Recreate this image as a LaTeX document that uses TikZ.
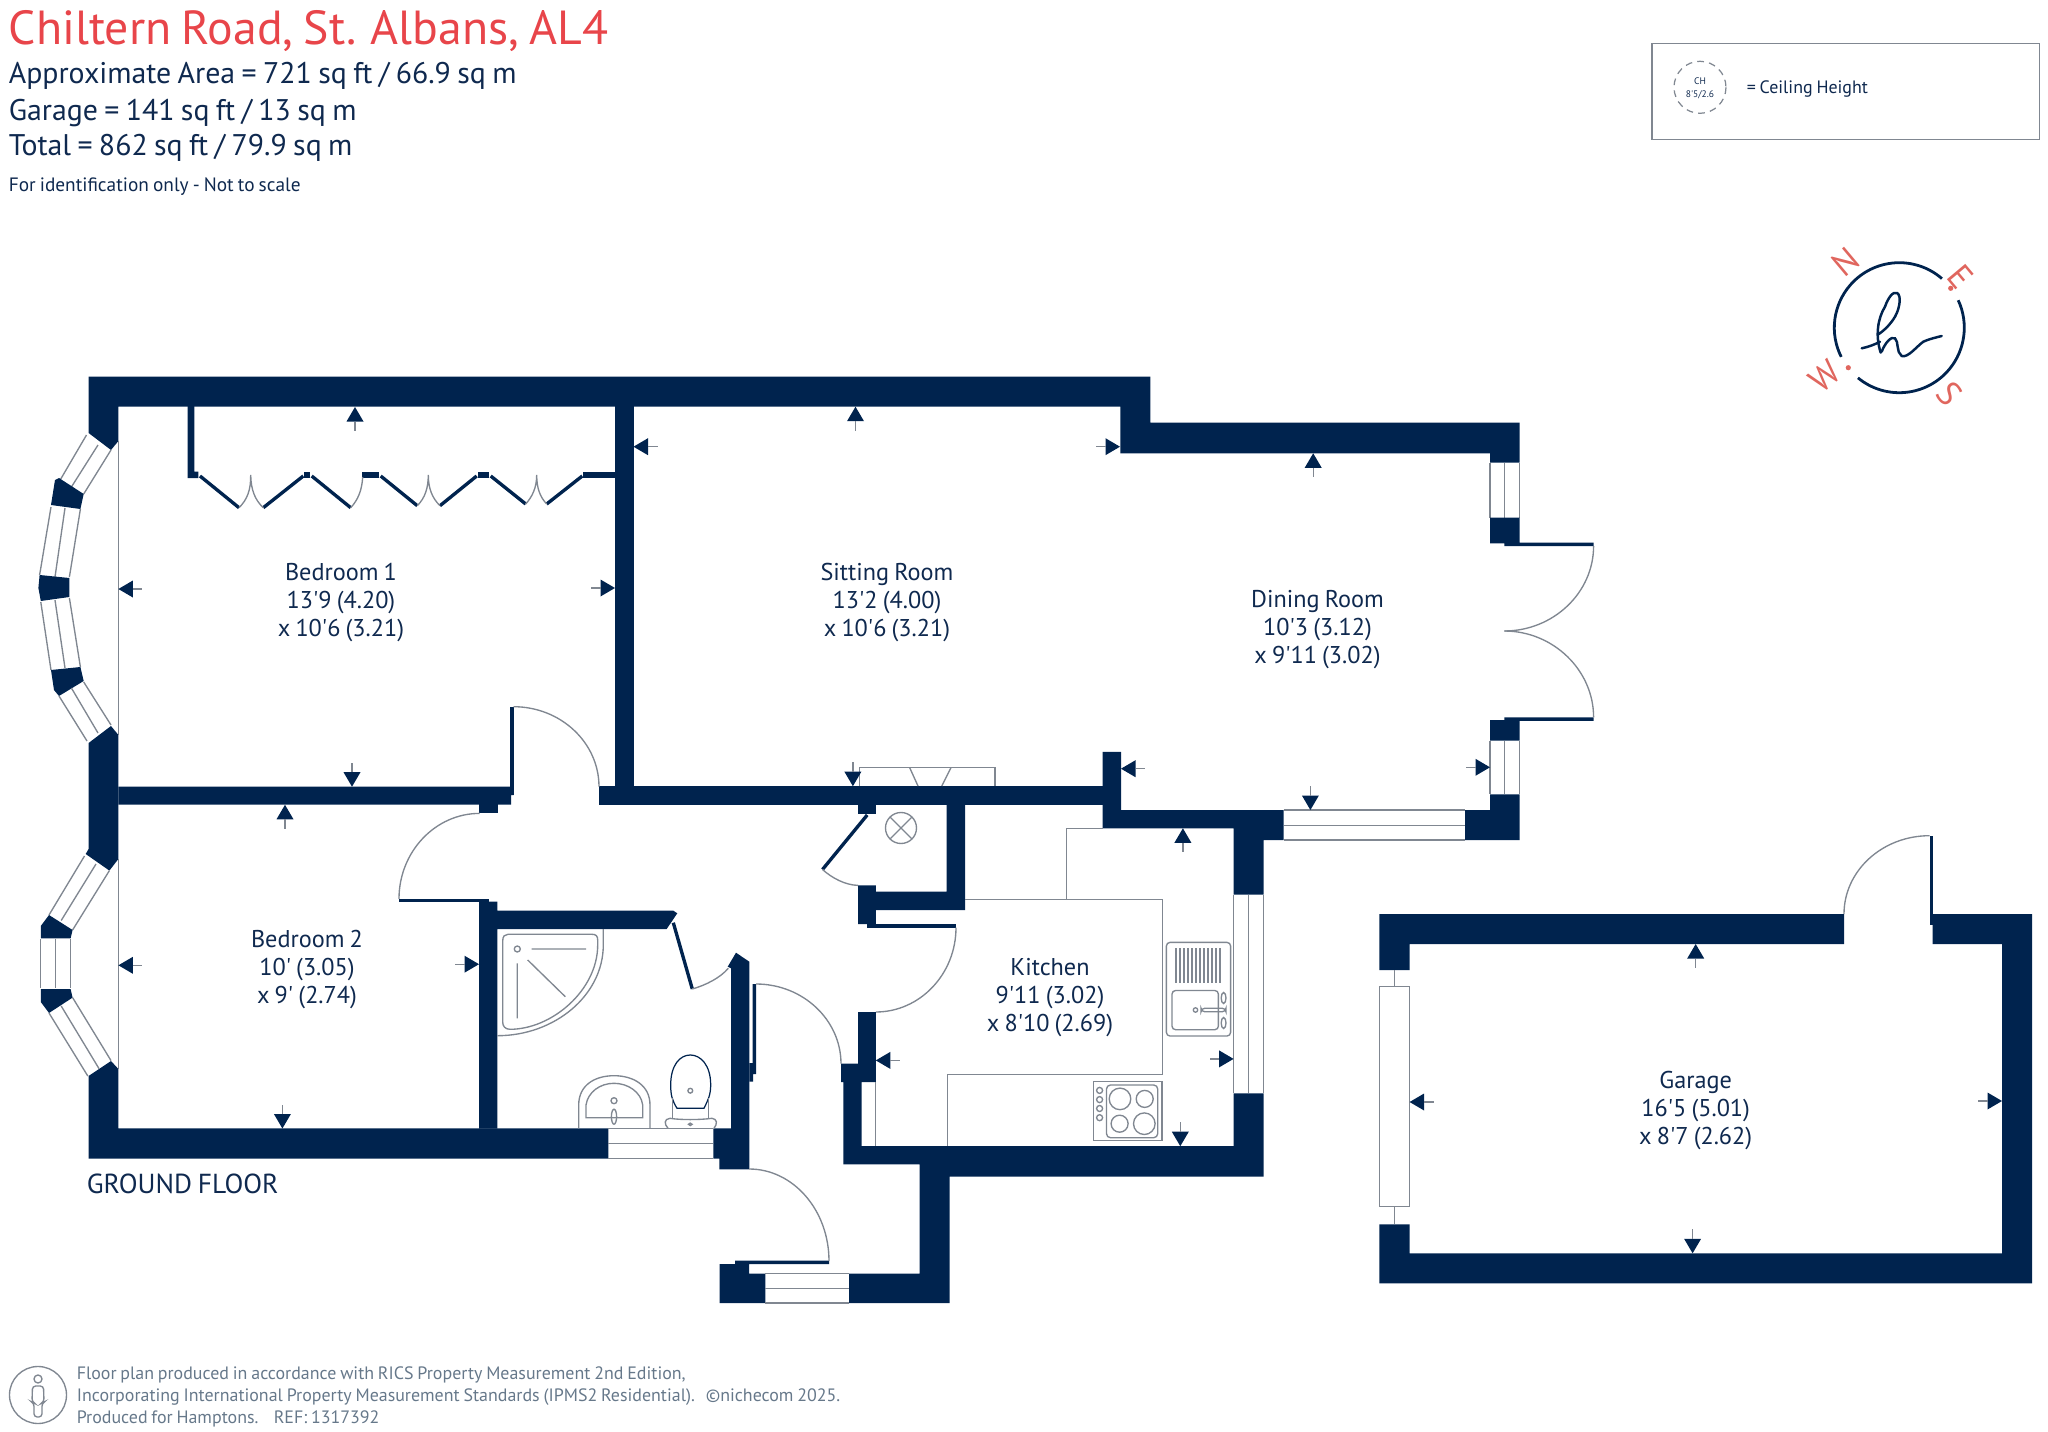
\documentclass[tikz,border=0pt]{standalone}
\usepackage{fontspec}
\setmainfont{PT Sans}[Ligatures=TeXOff,WordSpace=0.8]
\usepackage{tikz}
\usetikzlibrary{calc}
\definecolor{navy}{rgb}{0.0,0.137,0.306}
\definecolor{inkblue}{rgb}{0.06,0.16,0.31}
\definecolor{titlered}{rgb}{0.91,0.27,0.29}
\definecolor{compassred}{rgb}{0.88,0.40,0.37}
\definecolor{linegray}{rgb}{0.50,0.53,0.57}
\definecolor{footgray}{rgb}{0.40,0.47,0.54}
\tikzset{
  wall/.style={fill=navy},
  fineline/.style={draw=linegray,line width=0.34pt},
  darkline/.style={draw=navy,line width=0.31pt},
  leafline/.style={draw=navy,line width=0.84pt},
  roomlabel/.style={align=center,inner sep=0pt,text=inkblue,font=\fontsize{6.09}{7.03}\selectfont},
  headline/.style={anchor=base west,inner sep=0pt,text=inkblue,font=\fontsize{7.49}{9}\selectfont},
  footline/.style={anchor=base west,inner sep=0pt,text=footgray,font=\fontsize{4.5}{6}\selectfont},
  compassletter/.style={inner sep=0pt,text=compassred,font=\fontsize{8.6}{9}\selectfont}
}
% dimension tick: tip at #1,#2 and tail along angle #3
\newcommand{\dimtick}[3]{%
  \begin{scope}[shift={(#1,#2)},rotate=#3]
    \fill[navy] (0,0) -- (14.5,-8.5) -- (14.5,8.5) -- cycle;
    \draw[fineline] (14.5,0) -- (24,0);
  \end{scope}}
\begin{document}
\begin{tikzpicture}[x=0.25bp,y=-0.25bp]
        \useasboundingbox (0,0) rectangle (2048,1432);
        % Heading
        \node[anchor=base west,inner sep=0pt,text=titlered,font=\fontsize{12.0}{14}\selectfont] (title) at (8,44.3) {Chiltern Road, St. Albans, AL4};
        \node[headline] (arealine) at (8,83.3) {Approximate Area = 721 sq ft / 66.9 sq m};
        \node[headline] (garageline) at (8,120) {Garage = 141 sq ft / 13 sq m};
        \node[headline] (totalline) at (8,156) {Total = 862 sq ft / 79.9 sq m};
        \node[headline,font=\fontsize{4.85}{6}\selectfont] (noscale) at (8,191.7) {For identification only - Not to scale};
        % Ceiling Height key
        \draw[fineline] (1652,43.3) rectangle (2039.3,139.3);
        \draw[draw=linegray,line width=0.31pt,dash pattern=on 1.7pt off 1.3pt] (1700,87.3) circle (26);
        \node[inner sep=0pt,text=inkblue,font=\fontsize{2.38}{3}\selectfont] (keych) at (1700,81.5) {CH};
        \node[inner sep=0pt,text=inkblue,font=\fontsize{2.38}{3}\selectfont] (keyheight) at (1700,94.5) {8'5/2.6};
        \node[anchor=base west,inner sep=0pt,text=inkblue,font=\fontsize{4.5}{6}\selectfont] (keytext) at (1746,93.3) {= Ceiling Height};
        % Compass
        \draw[navy,line width=0.7pt] ({1899.3+65*cos(49)},{327.7-65*sin(49)}) arc[start angle=-49,end angle=-206.7,radius=65];
        \draw[navy,line width=0.7pt] ({1899.3+65*cos(230.5)},{327.7-65*sin(230.5)}) arc[start angle=-230.5,end angle=-385,radius=65];
        \draw[navy,line width=0.62pt,line cap=round] (1861.7,348.3) .. controls (1868,347) and (1875,344.5) .. (1880,341.7);
        \draw[navy,line width=0.62pt,line cap=round] (1880.7,352.7) .. controls (1875,335) and (1878,318) .. (1885,306.7) .. controls (1888,298) and (1893,291) .. (1897,293) .. controls (1902,296) and (1899,308) .. (1896.7,313.3) .. controls (1893,322) and (1884,331) .. (1877.3,335);
        \draw[navy,line width=0.62pt,line cap=round] (1881.7,351.7) .. controls (1885,343) and (1891,336) .. (1895,338.3) .. controls (1899,342) and (1896,352) .. (1901.7,356) .. controls (1908,358) and (1916,347) .. (1923.3,341.7) .. controls (1929,339) and (1936,337.5) .. (1941.7,336);
        \fill[compassred] (1950.7,288.3) circle (2.6);
        \fill[compassred] (1848.3,367.7) circle (2.6);
        \node[compassletter,rotate=40] (compassn) at (1846,261.7) {N};
        \node[compassletter,rotate=-50] (compasse) at (1961,276.7) {E};
        \node[compassletter,rotate=40] (compassw) at (1824.3,376.7) {W};
        \node[compassletter,rotate=-50] (compasss) at (1950,393.3) {S};
        % Top and rear walls
        \fill[wall] (88.6,376.7) -- (1150.4,376.7) -- (1150.4,422.7) -- (1519.6,422.7) -- (1519.6,462.7) -- (1490,462.7) -- (1490,453.3) -- (1120.4,453.3) -- (1120.4,406.7) -- (118.4,406.7) -- (118.4,441) -- (111,450) -- (88.6,433) -- cycle;
        \fill[wall] (615,406) rectangle (633.5,805);
        \fill[wall] (118.4,786.7) -- (513.5,786.7) -- (513.5,795) -- (511,795) -- (511,804.5) -- (118.4,804.5) -- cycle;
        \fill[wall] (599,786.2) rectangle (1102.7,805);
        % Bedroom 1 bay window
        \draw[fineline] (118.4,441) -- (118.4,735);
        \draw[fineline] (86.5,435) -- (59,482) (111,450) -- (83.7,494) (98,445) -- (71.4,487);
        \fill[wall] (55,480) -- (59,478) -- (83.7,494) -- (80.4,509) -- (51,505) -- cycle;
        \draw[fineline] (51,507) -- (39.6,575) (80.4,509) -- (69.4,577) (65,508) -- (55,577);
        \fill[wall] (39.6,575) -- (69.4,578) -- (69.4,597) -- (40.8,601) -- (38.4,588) -- cycle;
        \draw[fineline] (40.8,602) -- (51,670) (69.4,598) -- (80.4,667) (55,600) -- (65,668);
        \fill[wall] (51,670) -- (80.4,667) -- (83.7,681) -- (59,696) -- (54,690) -- cycle;
        \draw[fineline] (59,696) -- (87,741) (83.7,682) -- (111,725) (71.4,688) -- (98,733);
        % Left wall between the bays
        \fill[wall] (88.6,743) -- (111,726) -- (118.4,735) -- (118.4,859) -- (109.4,870.6) -- (85.7,854) -- (88.6,849) -- cycle;
        % Bedroom 2 bay window
        \draw[fineline] (118.4,859) -- (118.4,1069);
        \draw[fineline] (84.5,856) -- (49,915) (109.4,870.6) -- (72.6,930) (96,864) -- (61.2,920.5);
        \fill[wall] (49,915) -- (72.6,930) -- (70.6,938.4) -- (40.8,938.4) -- (40.8,926) -- cycle;
        \draw[fineline] (40.8,939) -- (40.8,988) (70.6,939) -- (70.6,988) (55.5,939) -- (55.5,988);
        \fill[wall] (40.8,989) -- (70.6,989) -- (72.6,997.6) -- (49,1013) -- (40.8,1002) -- cycle;
        \draw[fineline] (49,1013) -- (87.8,1076) (72.6,997.6) -- (111,1060.6) (61.2,1006) -- (99,1068.6);
        % Front walls
        \fill[wall] (88.6,1076) -- (111,1061) -- (118.4,1069) -- (118.4,1128.4) -- (608.3,1128.4) -- (608.3,1158.5) -- (88.6,1158.5) -- cycle;
        \fill[wall] (713.3,1128.4) -- (731,1128.4) -- (731,968.3) -- (727.7,966.7) -- (736,952.7) -- (749.3,961.7) -- (749.3,1169.3) -- (719.3,1169.3) -- (719.3,1158.5) -- (713.3,1158.5) -- cycle;
        \draw[fineline] (608.3,1128.4) -- (713.3,1128.4) (608.3,1143.3) -- (713.3,1143.3) (608.3,1158.5) -- (713.3,1158.5);
        % Bedroom 2 and bathroom walls
        \fill[wall] (479,899) -- (488.3,899) -- (488.3,901.7) -- (497.3,901.7) -- (497.3,910.7) -- (673.3,910.7) -- (677.3,913.3) -- (666.7,929) -- (497.3,929) -- (497.3,1128.5) -- (479,1128.5) -- cycle;
        \fill[wall] (479,804) rectangle (498,813.3);
        % Built in wardrobes
        \fill[wall] (187.7,406) -- (194.3,406) -- (194.3,471.7) -- (198.3,471.7) -- (198.3,478) -- (187.7,478) -- cycle;
        \fill[wall] (304.3,471.7) rectangle (310,478);
        \fill[wall] (362.3,471.7) rectangle (379,478);
        \fill[wall] (477.7,471.7) rectangle (489.3,478);
        \fill[wall] (583.3,471.7) rectangle (615,478);
        \draw[leafline] (200,476) -- (239,507.7);
        \draw[leafline] (263.3,507.7) -- (303.3,476);
        \draw[leafline] (311.7,476) -- (350.7,507.7);
        \draw[leafline] (380.7,476) -- (417.3,505.7);
        \draw[leafline] (440,505.7) -- (476.7,476);
        \draw[leafline] (490.7,476) -- (525.7,504);
        \draw[leafline] (546.7,504) -- (582.3,476);
        \draw[fineline] (239,507.7) .. controls (247,500) and (251,490) .. (250.7,475) .. controls (251,490) and (255,500) .. (263.3,507.7);
        \draw[fineline] (350.7,507.7) .. controls (358,500) and (362,490) .. (362.7,477);
        \draw[fineline] (417.3,505.7) .. controls (425,498) and (428.3,488) .. (428.3,475) .. controls (428.3,488) and (432,498) .. (440,505.7);
        \draw[fineline] (525.7,504) .. controls (532,497) and (536.7,488) .. (536.7,475) .. controls (536.7,488) and (540,497) .. (546.7,504);
        % Bedroom doors
        \fill[wall] (510,706.7) rectangle (513.5,795);
        \draw[fineline] (513.5,706.7) .. controls (560.8,706.7) and (599,742.7) .. (599,786.7);
        \fill[wall] (399,898.8) rectangle (488.6,902);
        \draw[fineline] (399,898.8) .. controls (399,851.8) and (435.3,813.4) .. (479.6,813.4);
        % Fireplace
        \draw[fineline] (859.8,786) -- (859.8,767.7) -- (995,767.7) -- (995,786);
        \draw[fineline] (909.7,767.7) -- (918,786) (950.9,767.7) -- (941.8,786);
        % Cupboard
        \fill[wall] (858,805) rectangle (875.8,814);
        \fill[wall] (858,885.4) -- (875.8,885.4) -- (875.8,891.7) -- (946.5,891.7) -- (946.5,805) -- (965,805) -- (965,910) -- (875.8,910) -- (875.8,924.2) -- (858,924.2) -- cycle;
        \draw[leafline] (867.2,815) -- (822.5,869.5);
        \draw[fineline] (822.5,869.5) .. controls (832,878) and (845,885) .. (858,885.4);
        \draw[fineline] (901,828) circle (15.5);
        \draw[fineline] (890,817) -- (912,839) (912,817) -- (890,839);
        % Kitchen and hall doors
        \fill[wall] (867,923.9) rectangle (956,927.6);
        \draw[fineline] (956,927.6) .. controls (956,974) and (920,1012) .. (875.8,1012);
        \fill[wall] (749.3,1063) -- (752.7,1063) -- (752.7,984) -- (756,984) -- (756,1074) -- (753,1074) -- (753,1081.7) -- (749.3,1081.7) -- cycle;
        \draw[fineline] (756,984) .. controls (803,984) and (841,1020) .. (841,1063.7);
        % Kitchen walls
        \fill[wall] (1102.7,751.8) -- (1121,751.8) -- (1121,810) -- (1283.6,810) -- (1283.6,840) -- (1263.5,840) -- (1263.5,894.6) -- (1233.6,894.6) -- (1233.6,828.3) -- (1102.7,828.3) -- cycle;
        \fill[wall] (1233.6,1093.3) -- (1263.5,1093.3) -- (1263.5,1176.5) -- (949.6,1176.5) -- (949.6,1303) -- (849,1303) -- (849,1273.5) -- (919.7,1273.5) -- (919.7,1164.4) -- (843.3,1164.4) -- (843.3,1082) -- (841,1082) -- (841,1063.7) -- (858,1063.7) -- (858,1012) -- (875.8,1012) -- (875.8,1082) -- (861.5,1082) -- (861.5,1146.2) -- (1233.6,1146.2) -- cycle;
        \draw[fineline] (1233.6,894.6) -- (1233.6,1093.3) (1248.4,894.6) -- (1248.4,1093.3) (1263.5,894.6) -- (1263.5,1093.3);
        % Kitchen units
        \draw[fineline] (875.8,1082) -- (875.8,1146.2);
        \draw[fineline] (1102.7,828.3) -- (1066.7,828.3) -- (1066.7,899.4);
        \draw[fineline] (965,899.4) -- (1162.5,899.4) -- (1162.5,1074.8) -- (947.4,1074.8) -- (947.4,1146.2);
        % Sink
        \draw[fineline,rounded corners=0.9pt] (1166.4,942.4) rectangle (1230.6,1036);
        \draw[fineline,rounded corners=0.9pt] (1172,990.5) rectangle (1218.4,1029.7);
        \foreach \groove in {1176,1180,...,1220} {
          \draw[fineline] (\groove,948) -- (\groove,983.4);
        }
        \draw[fineline,rounded corners=0.9pt] (1201,1008.3) rectangle (1226,1011.7);
        \draw[fineline] (1195.5,1010) circle (2.2);
        \draw[fineline] (1223.6,998) ellipse (2.4 and 5.5);
        \draw[fineline] (1223.6,1023) ellipse (2.4 and 5.5);
        % Hob
        \draw[fineline] (1093.5,1081.5) rectangle (1162,1140.7);
        \draw[fineline,rounded corners=1pt] (1106.5,1085) rectangle (1157.7,1137.7);
        \draw[fineline] (1120,1098.9) circle (10.8);
        \draw[fineline] (1144.7,1098.9) circle (8.5);
        \draw[fineline] (1119.6,1123.7) circle (8.5);
        \draw[fineline] (1144.3,1123.7) circle (10.8);
        \foreach \knob in {1090.4,1099.6,1108.5,1117.7} {
          \draw[fineline] (1099.6,\knob) circle (3);
        }
        % Shower
        \draw[fineline] (603.3,929) -- (603.3,945) .. controls (603.3,995) and (555,1035.7) .. (497.3,1035.7);
        \draw[fineline] (508,934.3) -- (592,934.3) .. controls (596,934.3) and (597.7,936) .. (597.7,940) -- (597.7,945) .. controls (597.7,990) and (552,1029.3) .. (510,1029.3) .. controls (505,1029.3) and (502.7,1026) .. (502.7,1022) -- (502.7,941) .. controls (502.7,936) and (505,934.3) .. (508,934.3) -- cycle;
        \draw[fineline] (517.3,949) circle (3);
        \draw[fineline] (531.7,949) -- (586,949) (517.3,963.3) -- (517.3,1018.3) (527.7,960) -- (565.3,996.7);
        % Basin
        \draw[fineline] (578.7,1128.3) -- (578.7,1105) .. controls (578.7,1085) and (595,1075.7) .. (614,1075.7) .. controls (633,1075.7) and (650,1085) .. (650,1105) -- (650,1128.3);
        \draw[fineline] (586,1117.7) -- (586,1105) .. controls (588,1092) and (600,1083.3) .. (614,1083.3) .. controls (628,1083.3) and (641,1092) .. (642.7,1105) -- (642.7,1117.7) -- cycle;
        \draw[fineline] (614,1100.7) circle (3);
        \draw[fineline] (614,1116.7) ellipse (2.6 and 7.5);
        % Toilet
        \draw[darkline] (677,1108.3) .. controls (672,1100) and (670.7,1095) .. (670.7,1085) .. controls (670.7,1065) and (680,1055) .. (690.3,1055) .. controls (700.6,1055) and (710.7,1065) .. (710.7,1085) .. controls (710.7,1095) and (708,1100) .. (704,1108.3) -- cycle;
        \draw[fineline] (672.5,1098) -- (672.5,1118.3) (708.5,1098) -- (708.5,1118.3);
        \draw[fineline] (668,1128.3) .. controls (664,1124) and (664,1119) .. (670,1118.3) .. controls (680,1120) and (700,1120) .. (712,1118.3) .. controls (717.5,1119) and (717.5,1124) .. (714,1128.3);
        \draw[fineline] (690.3,1090.7) circle (2.4);
        \draw[fineline] (690.3,1124.3) ellipse (1.8 and 1.2);
        % Bathroom door
        \draw[leafline] (673.3,922.7) -- (692.3,989);
        \draw[fineline] (692.3,989) .. controls (706,985) and (720,978) .. (728.3,968.3);
        % Entrance
        \fill[wall] (719.7,1264) -- (735,1264) -- (735,1260.5) -- (829,1260.5) -- (829,1264.2) -- (749.2,1264.2) -- (749.2,1273.5) -- (765.3,1273.5) -- (765.3,1303) -- (719.7,1303) -- cycle;
        \draw[fineline] (749.2,1169) .. controls (793,1169) and (829,1210) .. (829,1261);
        \draw[fineline] (765.3,1273.5) -- (849,1273.5) (765.3,1288.3) -- (849,1288.3) (765.3,1303) -- (849,1303);
        % Dining Room windows and doors
        \draw[fineline] (1283.6,810) -- (1465,810) (1283.6,825.3) -- (1465,825.3) (1283.6,840) -- (1465,840);
        \fill[wall] (1465,810) -- (1490,810) -- (1490,794.3) -- (1519.6,794.3) -- (1519.6,840) -- (1465,840) -- cycle;
        \draw[fineline] (1490,462.7) -- (1490,517.7) (1504.3,462.7) -- (1504.3,517.7) (1519.6,462.7) -- (1519.6,517.7);
        \fill[wall] (1490,517.7) -- (1519.6,517.7) -- (1519.6,542.7) -- (1593.6,542.7) -- (1593.6,546) -- (1504.3,546) -- (1504.3,543.3) -- (1490,543.3) -- cycle;
        \fill[wall] (1490,720) -- (1504.3,720) -- (1504.3,717.3) -- (1593.6,717.3) -- (1593.6,720.8) -- (1519.6,720.8) -- (1519.6,740.7) -- (1490,740.7) -- cycle;
        \draw[fineline] (1490,740.7) -- (1490,794.3) (1504.3,740.7) -- (1504.3,794.3) (1519.6,740.7) -- (1519.6,794.3);
        \draw[fineline] (1593.6,546) .. controls (1593.6,593) and (1553,631) .. (1504.3,631);
        \draw[fineline] (1593.6,717.3) .. controls (1593.6,670) and (1553,631) .. (1504.3,631);
        % Garage walls
        \fill[wall] (1379.3,970) -- (1379.3,914) -- (1844,914) -- (1844,944) -- (1409.6,944) -- (1409.6,970) -- cycle;
        \fill[wall] (1932.6,914) -- (2032.2,914) -- (2032.2,1283.3) -- (1379.3,1283.3) -- (1379.3,1224.3) -- (1409.6,1224.3) -- (1409.6,1253.3) -- (2002,1253.3) -- (2002,944) -- (1932.6,944) -- cycle;
        \draw[fineline] (1379.3,986.7) rectangle (1409.6,1206.7);
        \draw[fineline] (1394.2,970) -- (1394.2,986.7) (1394.2,1206.7) -- (1394.2,1224.3);
        \fill[wall] (1929.6,835.7) rectangle (1932.6,925);
        \draw[fineline] (1844,914) .. controls (1844,871) and (1882,835.7) .. (1929.6,835.7);
        % Room dimension ticks
        \dimtick{355}{407}{-90}
        \dimtick{118.4}{589}{0}
        \dimtick{615}{588}{180}
        \dimtick{352}{786.7}{90}
        \dimtick{285}{804.8}{-90}
        \dimtick{118.4}{965.3}{0}
        \dimtick{479}{964.2}{180}
        \dimtick{282.4}{1128.5}{90}
        \dimtick{855.5}{406.7}{-90}
        \dimtick{633.5}{446.7}{0}
        \dimtick{1120}{446.7}{180}
        \dimtick{852.9}{786.2}{90}
        \dimtick{1313.2}{453.3}{-90}
        \dimtick{1121}{768.7}{0}
        \dimtick{1490}{767.3}{180}
        \dimtick{1310.4}{810}{90}
        \dimtick{1182.9}{828.3}{-90}
        \dimtick{875.8}{1060.4}{0}
        \dimtick{1233.6}{1058.9}{180}
        \dimtick{1180.3}{1146.2}{90}
        \dimtick{1695.7}{944}{-90}
        \dimtick{1409.6}{1102}{0}
        \dimtick{2002}{1101}{180}
        \dimtick{1692.6}{1253.3}{90}
        % Room names
        \node[roomlabel] (bedroomone) at (341,603) {Bedroom 1\\13'9 (4.20)\\x 10'6 (3.21)};
        \node[roomlabel] (sittingroom) at (887,603) {Sitting Room\\13'2 (4.00)\\x 10'6 (3.21)};
        \node[roomlabel] (diningroom) at (1317.5,630) {Dining Room\\10'3 (3.12)\\x 9'11 (3.02)};
        \node[roomlabel] (bedroomtwo) at (307,970) {Bedroom 2\\10' (3.05)\\x 9' (2.74)};
        \node[roomlabel] (kitchen) at (1050,998) {Kitchen\\9'11 (3.02)\\x 8'10 (2.69)};
        \node[roomlabel] (garage) at (1695.7,1111) {Garage\\16'5 (5.01)\\x 8'7 (2.62)};
        \node[anchor=base west,inner sep=0pt,text=inkblue,font=\fontsize{6.9}{9}\selectfont] (floorname) at (86,1193) {GROUND FLOOR};
        % Footer
        \draw[fineline] (38,1395) circle (28.5);
        \draw[fineline] (38,1379) circle (4);
        \draw[fineline,rounded corners=0.8pt] (32.5,1386) -- (43.5,1386) -- (44,1402) -- (42,1403) -- (42,1417) -- (34,1417) -- (34,1403) -- (32,1402) -- cycle;
        \node[footline] (footone) at (76,1379.5) {Floor plan produced in accordance with RICS Property Measurement 2nd Edition,};
        \node[footline] (foottwo) at (76,1401) {Incorporating International Property Measurement Standards (IPMS2 Residential).};
        \node[footline] (footthree) at (76,1423) {Produced for Hamptons.};
        \node[footline] (footref) at (273,1423) {REF: 1317392};
        \node[footline] (footcopy) at (705,1401) {\textcopyright nichecom 2025.};
      \end{tikzpicture}
\end{document}
